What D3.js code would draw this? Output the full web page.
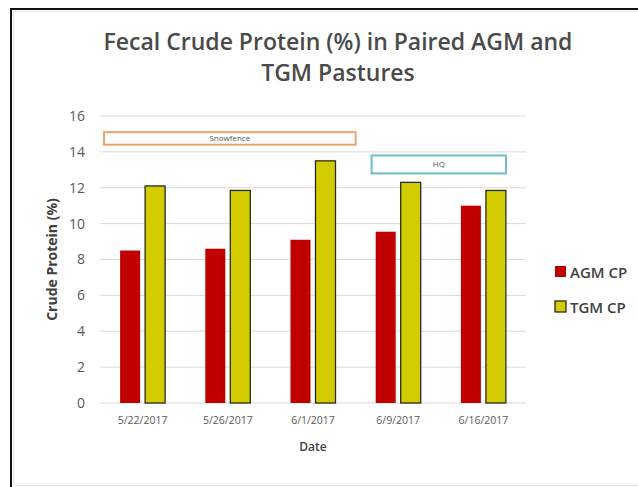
<!DOCTYPE html>
<html>
<head>
<meta charset="utf-8">
<script src="https://cdn.jsdelivr.net/npm/d3@7"></script>
<style>
  body { margin: 0; background: #fff; }
  text { font-family: "Open Sans", "Noto Sans", sans-serif; }
</style>
</head>
<body>
<div id="chart"></div>
<script>
// Datos
const dates = ["5/22/2017", "5/26/2017", "6/1/2017", "6/9/2017", "6/16/2017"]
const agmCP = [8.5, 8.6, 9.1, 9.55, 11.0]
const tgmCP = [12.1, 11.85, 13.5, 12.3, 11.85]
const yTicks = [0, 2, 4, 6, 8, 10, 12, 14, 16]
const series = ["AGM CP", "TGM CP"]
const notes = [
  {label: "Snowfence", from: "5/22/2017", to: "6/1/2017", top: 15.1, bottom: 14.4},
  {label: "HQ", from: "6/9/2017", to: "6/16/2017", top: 13.8, bottom: 12.8}
]

const W = 638, H = 487
const margin = {top: 116, right: 112, bottom: 84, left: 100}
const width = W - margin.left - margin.right
const height = H - margin.top - margin.bottom

const colors = {"AGM CP": "#c00000", "TGM CP": "#d2cc00"}

const svg = d3.select("#chart")
  .append("svg")
    .attr("width", W)
    .attr("height", H)

// marco exterior
svg.append("rect")
  .attr("x", 11).attr("y", 9)
  .attr("width", W).attr("height", H)
  .attr("fill", "none").attr("stroke", "#111").attr("stroke-width", 2)
svg.append("rect")
  .attr("x", 13.5).attr("y", 11.5)
  .attr("width", W).attr("height", H - 13)
  .attr("fill", "none").attr("stroke", "#e4e4e4").attr("stroke-width", 1)

// titulo
const title = svg.append("text")
  .attr("text-anchor", "middle")
  .attr("fill", "#4a4a4a")
  .style("font-size", "23px")
  .style("font-weight", "600")
title.append("tspan").attr("x", 338).attr("y", 50).text("Fecal Crude Protein (%) in Paired AGM and")
title.append("tspan").attr("x", 338).attr("y", 81).text("TGM Pastures")

const g = svg.append("g")
  .attr("transform", `translate(${margin.left},${margin.top})`)

const x = d3.scaleBand().domain(dates).range([0, width])
const y = d3.scaleLinear().domain([0, 16]).range([height, 0])

// lineas de cuadricula
g.append("g")
  .selectAll("line")
  .data(yTicks)
  .join("line")
    .attr("x1", 0).attr("x2", width)
    .attr("y1", d => y(d)).attr("y2", d => y(d))
    .attr("stroke", "#d9d9d9").attr("stroke-width", 1)

// eje Y
const yAxis = g.append("g")
  .call(d3.axisLeft(y).tickValues(yTicks).tickSize(0).tickPadding(15))
yAxis.select(".domain").remove()
yAxis.selectAll("text").attr("fill", "#595959").style("font-size", "14px")

// eje X
const xAxis = g.append("g")
  .attr("transform", `translate(0,${height})`)
  .call(d3.axisBottom(x).tickSize(0).tickPadding(14))
xAxis.select(".domain").remove()
xAxis.selectAll("text").attr("fill", "#595959").style("font-size", "10.5px")

// barras
const barW = 20, gap = 5
const groups = g.selectAll(".grupo")
  .data(dates)
  .join("g")
    .attr("transform", d => `translate(${x(d) + x.bandwidth() / 2},0)`)

groups.append("rect")
  .attr("x", -barW - gap / 2)
  .attr("y", (d, i) => y(agmCP[i]))
  .attr("width", barW)
  .attr("height", (d, i) => height - y(agmCP[i]))
  .attr("fill", colors["AGM CP"])

groups.append("rect")
  .attr("x", gap / 2)
  .attr("y", (d, i) => y(tgmCP[i]))
  .attr("width", barW)
  .attr("height", (d, i) => height - y(tgmCP[i]))
  .attr("fill", colors["TGM CP"])
  .attr("stroke", "#2a2a1a").attr("stroke-width", 1.3)

// anotaciones
const noteColors = {"Snowfence": "#f0a46a", "HQ": "#6fbfca"}
const noteInset = {"Snowfence": [4, 0], "HQ": [16, 20]}
notes.forEach(n => {
  const x0 = x(n.from) + noteInset[n.label][0]
  const x1 = x(n.to) + x.bandwidth() - noteInset[n.label][1]
  g.append("rect")
    .attr("x", x0).attr("y", y(n.top))
    .attr("width", x1 - x0).attr("height", y(n.bottom) - y(n.top))
    .attr("fill", "#fff")
    .attr("stroke", noteColors[n.label]).attr("stroke-width", 2)
  g.append("text")
    .attr("x", (x0 + x1) / 2)
    .attr("y", (y(n.top) + y(n.bottom)) / 2 + 3)
    .attr("text-anchor", "middle")
    .attr("fill", "#555")
    .style("font-size", "8px")
    .text(n.label)
})

// titulos de ejes
svg.append("text")
  .attr("transform", `translate(57,${margin.top + height / 2}) rotate(-90)`)
  .attr("text-anchor", "middle")
  .attr("fill", "#404040")
  .style("font-size", "14px").style("font-weight", "bold")
  .text("Crude Protein (%)")

svg.append("text")
  .attr("x", margin.left + width / 2)
  .attr("y", 451)
  .attr("text-anchor", "middle")
  .attr("fill", "#404040")
  .style("font-size", "12px").style("font-weight", "600")
  .text("Date")

// leyenda
const legend = svg.append("g")
  .attr("transform", "translate(555,272)")
legend.selectAll("g")
  .data(series)
  .join("g")
    .attr("transform", (d, i) => `translate(0,${i * 35})`)
    .call(s => {
      s.append("rect")
        .attr("x", 0).attr("y", -6)
        .attr("width", 11).attr("height", 11)
        .attr("fill", d => colors[d])
        .attr("stroke", d => d === "TGM CP" ? "#2a2a1a" : "none")
        .attr("stroke-width", 1.3)
      s.append("text")
        .attr("x", 15).attr("y", 6)
        .attr("fill", "#404040")
        .style("font-size", "15px").style("font-weight", "600")
        .text(d => d)
    })
</script>
</body>
</html>
